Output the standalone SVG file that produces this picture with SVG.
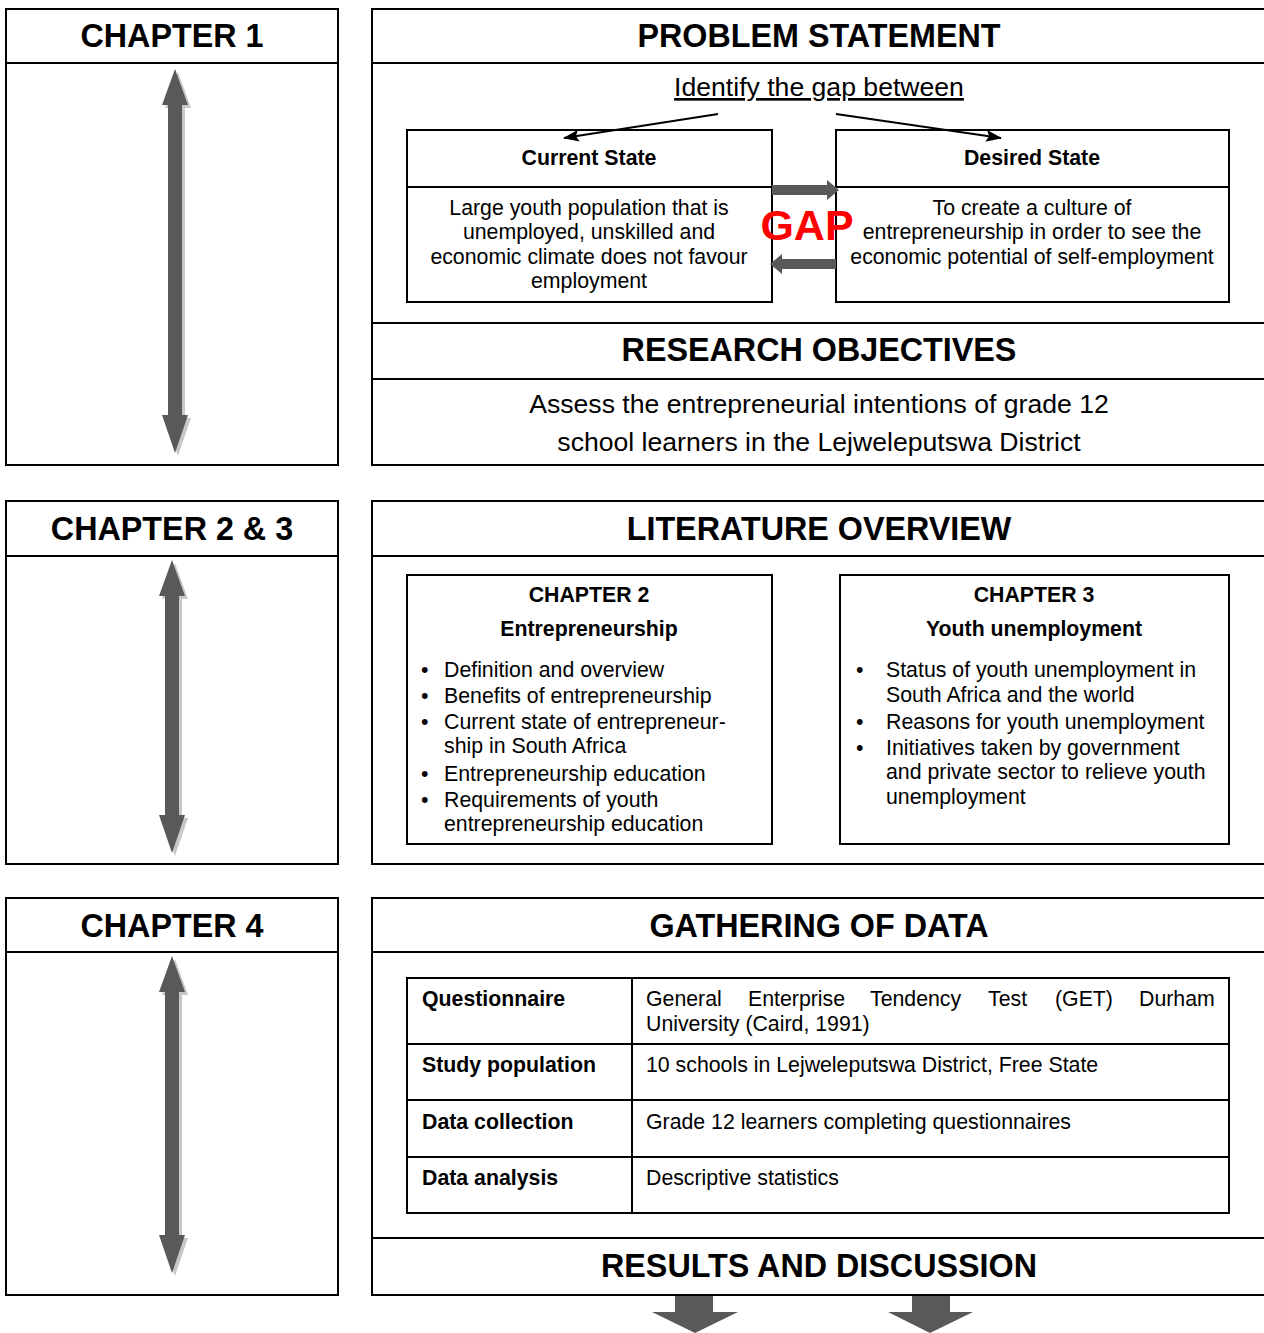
<svg xmlns="http://www.w3.org/2000/svg" width="1264" height="1333" viewBox="0 0 1264 1333">
<defs>
<style>
.box{fill:none;stroke:#000;stroke-width:2}
.ln{stroke:#000;stroke-width:2}
.h{font-family:"Liberation Sans",Arial,sans-serif;font-weight:bold;font-size:32.3px;fill:#000;text-anchor:middle}
.b{font-family:"Liberation Sans",Arial,sans-serif;font-size:21.3px;fill:#000}
.bb{font-family:"Liberation Sans",Arial,sans-serif;font-size:21.3px;font-weight:bold;fill:#000}
.c{text-anchor:middle}
.big{font-family:"Liberation Sans",Arial,sans-serif;font-size:26.6px;fill:#000;text-anchor:middle}
.arr{fill:#595959}
.sh{fill:#c8c8c8}
</style>
<marker id="ah" viewBox="0 0 16 12" refX="15" refY="6" markerWidth="16" markerHeight="12" markerUnits="userSpaceOnUse" orient="auto">
<path d="M0,0 L16,6 L0,12 L3,6 z" fill="#000"/>
</marker>
</defs>

<!-- Row 1 -->
<g id="chapter1">
<rect class="box" x="6" y="9" width="332" height="456"/>
<line class="ln" x1="6" y1="63" x2="338" y2="63"/>
<text class="h" x="172" y="47">CHAPTER 1</text>
<polygon class="sh" points="178,72 191,108 185,108 185,418 191,418 178,456 165,418 171,418 171,108 165,108"/>
<polygon class="arr" points="175,69 188,105 182,105 182,415 188,415 175,453 162,415 168,415 168,105 162,105"/>
</g>

<g id="problem-statement">
<path class="box" d="M1264,9 H372 V465 H1264"/>
<line class="ln" x1="372" y1="63" x2="1264" y2="63"/>
<text class="h" x="819" y="47">PROBLEM STATEMENT</text>
<text class="big" x="819" y="96" text-decoration="underline">Identify the gap between</text>
</g>

<g id="current-state">
<rect class="box" x="407" y="130" width="365" height="172"/>
<line class="ln" x1="407" y1="187" x2="772" y2="187"/>
<text class="bb c" x="589" y="165">Current State</text>
<text class="b c" x="589" y="215">Large youth population that is</text>
<text class="b c" x="589" y="239">unemployed, unskilled and</text>
<text class="b c" x="589" y="264">economic climate does not favour</text>
<text class="b c" x="589" y="288">employment</text>
</g>

<g id="desired-state">
<rect class="box" x="836" y="130" width="393" height="172"/>
<line class="ln" x1="836" y1="187" x2="1229" y2="187"/>
<text class="bb c" x="1032" y="165">Desired State</text>
<text class="b c" x="1032" y="215">To create a culture of</text>
<text class="b c" x="1032" y="239">entrepreneurship in order to see the</text>
<text class="b c" x="1032" y="264">economic potential of self-employment</text>
</g>

<g id="gap">
<polygon class="arr" points="772,185 827,185 827,180 839,190 827,200 827,195 772,195"/>
<polygon class="arr" points="836,259 782,259 782,254 770,264 782,274 782,269 836,269"/>
<text x="807" y="240" font-family="Liberation Sans,Arial,sans-serif" font-weight="bold" font-size="43" fill="#ff0000" text-anchor="middle">GAP</text>
</g>

<g id="research-objectives">
<line class="ln" x1="372" y1="323" x2="1264" y2="323"/>
<line class="ln" x1="372" y1="379" x2="1264" y2="379"/>
<text class="h" x="819" y="361">RESEARCH OBJECTIVES</text>
<text class="big" x="819" y="413">Assess the entrepreneurial intentions of grade 12</text>
<text class="big" x="819" y="451">school learners in the Lejweleputswa District</text>
</g>

<!-- Row 2 -->
<g id="chapter2-3">
<rect class="box" x="6" y="501" width="332" height="363"/>
<line class="ln" x1="6" y1="556" x2="338" y2="556"/>
<text class="h" x="172" y="540">CHAPTER 2 &amp; 3</text>
<polygon class="sh" points="175,563 188,599 182,599 182,818 188,818 175,856 162,818 168,818 168,599 162,599"/>
<polygon class="arr" points="172,560 185,596 179,596 179,815 185,815 172,853 159,815 165,815 165,596 159,596"/>
</g>

<g id="literature-overview">
<path class="box" d="M1264,501 H372 V864 H1264"/>
<line class="ln" x1="372" y1="556" x2="1264" y2="556"/>
<text class="h" x="819" y="540">LITERATURE OVERVIEW</text>
</g>

<g id="chapter2-box">
<rect class="box" x="407" y="575" width="365" height="269"/>
<text class="bb c" x="589" y="602">CHAPTER 2</text>
<text class="bb c" x="589" y="636">Entrepreneurship</text>
<g class="b">
<text x="421" y="677">•</text><text x="444" y="677">Definition and overview</text>
<text x="421" y="703">•</text><text x="444" y="703">Benefits of entrepreneurship</text>
<text x="421" y="729">•</text><text x="444" y="729">Current state of entrepreneur-</text>
<text x="444" y="753">ship in South Africa</text>
<text x="421" y="781">•</text><text x="444" y="781">Entrepreneurship education</text>
<text x="421" y="807">•</text><text x="444" y="807">Requirements of youth</text>
<text x="444" y="831">entrepreneurship education</text>
</g>
</g>

<g id="chapter3-box">
<rect class="box" x="840" y="575" width="389" height="269"/>
<text class="bb c" x="1034" y="602">CHAPTER 3</text>
<text class="bb c" x="1034" y="636">Youth unemployment</text>
<g class="b">
<text x="856" y="677">•</text><text x="886" y="677">Status of youth unemployment in</text>
<text x="886" y="702">South Africa and the world</text>
<text x="856" y="729">•</text><text x="886" y="729">Reasons for youth unemployment</text>
<text x="856" y="755">•</text><text x="886" y="755">Initiatives taken by government</text>
<text x="886" y="779">and private sector to relieve youth</text>
<text x="886" y="804">unemployment</text>
</g>
</g>

<!-- Row 3 -->
<g id="chapter4">
<rect class="box" x="6" y="898" width="332" height="397"/>
<line class="ln" x1="6" y1="952" x2="338" y2="952"/>
<text class="h" x="172" y="937">CHAPTER 4</text>
<polygon class="sh" points="175,959 188,995 182,995 182,1238 188,1238 175,1276 162,1238 168,1238 168,995 162,995"/>
<polygon class="arr" points="172,956 185,992 179,992 179,1235 185,1235 172,1273 159,1235 165,1235 165,992 159,992"/>
</g>

<g id="gathering-of-data">
<path class="box" d="M1264,898 H372 V1295 H1264"/>
<line class="ln" x1="372" y1="952" x2="1264" y2="952"/>
<text class="h" x="819" y="937">GATHERING OF DATA</text>
</g>

<g id="data-table">
<rect class="box" x="407" y="978" width="822" height="235"/>
<line class="ln" x1="632" y1="978" x2="632" y2="1213"/>
<line class="ln" x1="407" y1="1044" x2="1229" y2="1044"/>
<line class="ln" x1="407" y1="1100" x2="1229" y2="1100"/>
<line class="ln" x1="407" y1="1157" x2="1229" y2="1157"/>
<text class="bb" x="422" y="1006">Questionnaire</text>
<text class="b" y="1006"><tspan x="646">General</tspan><tspan x="748">Enterprise</tspan><tspan x="870">Tendency</tspan><tspan x="988">Test</tspan><tspan x="1055">(GET)</tspan><tspan x="1139">Durham</tspan></text>
<text class="b" x="646" y="1031">University (Caird, 1991)</text>
<text class="bb" x="422" y="1072">Study population</text>
<text class="b" x="646" y="1072">10 schools in Lejweleputswa District, Free State</text>
<text class="bb" x="422" y="1129">Data collection</text>
<text class="b" x="646" y="1129">Grade 12 learners completing questionnaires</text>
<text class="bb" x="422" y="1185">Data analysis</text>
<text class="b" x="646" y="1185">Descriptive statistics</text>
</g>

<g id="results-and-discussion">
<line class="ln" x1="372" y1="1238" x2="1264" y2="1238"/>
<text class="h" x="819" y="1277">RESULTS AND DISCUSSION</text>
</g>

<g id="connectors">
<line x1="718" y1="114" x2="564" y2="138" stroke="#000" stroke-width="2" marker-end="url(#ah)"/>
<line x1="836" y1="114" x2="1001" y2="138" stroke="#000" stroke-width="2" marker-end="url(#ah)"/>
<polygon class="arr" points="675,1296 713,1296 713,1312 738,1312 695,1333 652,1312 675,1312"/>
<polygon class="arr" points="912,1296 950,1296 950,1312 973,1312 930,1333 888,1312 912,1312"/>
</g>
</svg>
